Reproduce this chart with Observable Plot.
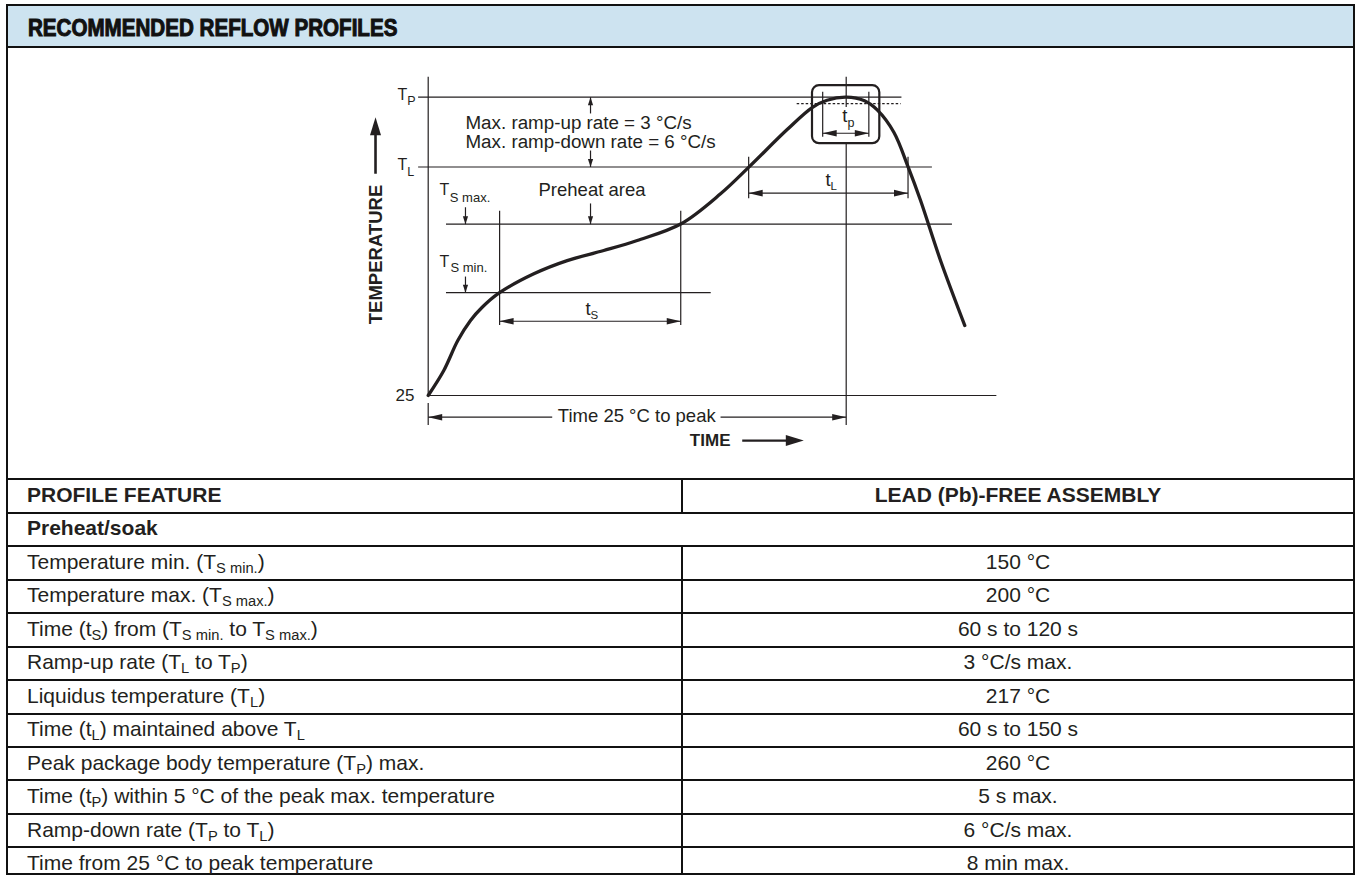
<!DOCTYPE html>
<html>
<head>
<meta charset="utf-8">
<script src="https://cdn.jsdelivr.net/npm/d3@7"></script>
<script src="https://cdn.jsdelivr.net/npm/@observablehq/plot@0.6"></script>
<style>
  html, body { margin: 0; padding: 0; background: #fff; }
  body { width: 1355px; height: 875px; position: relative; overflow: hidden;
         font-family: "Liberation Sans", Arial, Helvetica, sans-serif; color: #231f20; }
  .frame { position: absolute; left: 6px; top: 4px; width: 1349px; height: 871px;
           border: 2px solid #111; box-sizing: border-box; }
  .band { position: absolute; left: 8px; top: 6px; width: 1345px; height: 39.5px;
          background: #cde3f0; border-bottom: 2px solid #111; }
  .title { position: absolute; left: 28px; top: 16.5px; font-family: "Liberation Sans", Arial, sans-serif;
           font-weight: bold; font-size: 23px; line-height: 1; white-space: nowrap;
           color: #111; -webkit-text-stroke: 1px #111; transform: scaleX(0.895); transform-origin: 0 0; }
  .hline { position: absolute; left: 8px; width: 1345px; height: 2px; background: #111; }
  .vline { position: absolute; width: 2px; background: #111; }
  .cell { position: absolute; line-height: 1; white-space: nowrap; font-size: 21px; }
  .cell.b { font-weight: bold; }
  .cell.c { text-align: center; }
  sub { font-size: 0.7em; vertical-align: -0.28em; line-height: 0; }
  #chart { position: absolute; left: 0; top: 48px; width: 1355px; height: 430px; }
</style>
</head>
<body>
<div class="frame"></div>
<div class="band"></div>
<div class="title" id="title"></div>
<div id="chart"></div>
<div id="table"></div>
<script>
// ================= DATA =================
const titleText = "RECOMMENDED REFLOW PROFILES";

// Schematic temperature levels of the figure (°C on the drawing's scale)
const levelTP = 260, levelTL = 205, levelTSmax = 160, levelTSmin = 106, levelRoom = 25, levelTP5 = 255;
const timePeak = 480;

// Reflow profile curve: time (s, figure scale) / temperature
const curveTime = [0, 17.9, 34.0, 48.6, 62.0, 81.1, 121.3, 159.6, 201.6, 240.0, 290.5, 335.7, 368.2,
                   412.2, 441.3, 458.0, 480, 501.0, 515.6, 534.7, 551.2, 565.4, 588.3, 616.2];
const curveTemp = [25, 44.7, 68.3, 84.1, 94.5, 105.6, 120.9, 131.3, 139.2, 147.1, 160.3, 183.9, 204.9,
                   234.5, 252.0, 257.6, 260, 257.2, 250.0, 232.4, 204.9, 178.6, 131.4, 80.1];

// Horizontal level lines
const hRuleY  = [levelTP, levelTL, levelTSmax, levelTSmin, levelRoom];
const hRuleX1 = [-11, -11, 21, 21, 0];
const hRuleX2 = [544, 579, 602, 325, 653];

// Vertical lines (axis, peak, t_S, t_L, t_p marks, time origin tick)
const vRuleX  = [0, timePeak, timePeak, 82, 290, 368, 551, 453, 506, 0];
const vRuleY1 = [25, 251.9, 1.4, 80.1, 80.1, 180, 180, 228.5, 228.5, 1.4];
const vRuleY2 = [275.8, 275.8, 223.4, 170.2, 170.2, 212.7, 212.7, 263.9, 263.9, 18.7];

// Dimension arrows (horizontal): t_S, t_L, t_p, time 25 °C to peak (two halves)
const dimY    = [83.5, 184.4, 231.6, 7.9, 7.9];
const dimX1   = [82, 368, 453, 0, 335.7];
const dimX2   = [290, 551, 506, 142.4, timePeak];
const dimHead = ["both", "both", "both", "start", "end"];

// Small vertical pointer arrows (ramp-up, ramp-down, preheat, T_S max, T_S min)
const ptrX    = [186.4, 186.4, 186.4, 42.8, 42.8];
const ptrFrom = [247.2, 218.0, 176.3, 173.3, 118.7];
const ptrTo   = [levelTP, levelTL, levelTSmax, levelTSmax, levelTSmin];

// t_p window box
const boxX = [441.3, 518.6], boxY = [223.4, 269.1];

// Labels of the figure
const labels = [
  {text: "T", x: -24.1, y: 257.9, anchor: "end", size: 16},
  {text: "P", x: -24.1, y: 254.2, anchor: "start", size: 12.5},
  {text: "T", x: -24.1, y: 202.3, anchor: "end", size: 16},
  {text: "L", x: -24.1, y: 198.3, anchor: "start", size: 12.5},
  {text: "T", x: 13.0, y: 182.6, anchor: "start", size: 16},
  {text: "S max.", x: 24.8, y: 177.3, anchor: "start", size: 13},
  {text: "T", x: 13.0, y: 126.6, anchor: "start", size: 16},
  {text: "S min.", x: 25.6, y: 122.1, anchor: "start", size: 13},
  {text: "Preheat area", x: 188.1, y: 181.8, anchor: "middle", size: 18.5},
  {text: "Max. ramp-up rate = 3 °C/s", x: 42.8, y: 235.1, anchor: "start", size: 18.8},
  {text: "Max. ramp-down rate = 6 °C/s", x: 42.8, y: 220.1, anchor: "start", size: 18.8},
  {text: "t", x: 186.4, y: 88.8, anchor: "end", size: 18.5},
  {text: "S", x: 186.4, y: 85.4, anchor: "start", size: 11.5},
  {text: "t", x: 462.0, y: 190.4, anchor: "end", size: 18.5},
  {text: "L", x: 462.0, y: 187.0, anchor: "start", size: 11.5},
  {text: "t", x: 481.5, y: 240.3, anchor: "end", size: 18.5},
  {text: "p", x: 481.5, y: 236.9, anchor: "start", size: 12.5},
  {text: "25", x: -15.7, y: 20.5, anchor: "end", size: 17},
  {text: "Time 25 °C to peak", x: 239.5, y: 4.0, anchor: "middle", size: 18.5},
  {text: "TIME", x: 347.1, y: -14.4, anchor: "end", size: 17, weight: "bold"}
];
const axisTitleY = {text: "TEMPERATURE", x: -59.4, y: 136.1};
const bigArrowTemp = {x: -60.5, from: 199.7, shaftTo: 237.7, tip: 244.3};
const bigArrowTime = {y: -10.5, from: 360.6, shaftTo: 411.1, tip: 431.3};

// Table
const tableHead = ["PROFILE FEATURE", "LEAD (Pb)-FREE ASSEMBLY"];
const sectionLabel = "Preheat/soak";
const features = [
  "Temperature min. (T<sub>S min.</sub>)",
  "Temperature max. (T<sub>S max.</sub>)",
  "Time (t<sub>S</sub>) from (T<sub>S min.</sub> to T<sub>S max.</sub>)",
  "Ramp-up rate (T<sub>L</sub> to T<sub>P</sub>)",
  "Liquidus temperature (T<sub>L</sub>)",
  "Time (t<sub>L</sub>) maintained above T<sub>L</sub>",
  "Peak package body temperature (T<sub>P</sub>) max.",
  "Time (t<sub>P</sub>) within 5 °C of the peak max. temperature",
  "Ramp-down rate (T<sub>P</sub> to T<sub>L</sub>)",
  "Time from 25 °C to peak temperature"
];
const values = ["150 °C", "200 °C", "60 s to 120 s", "3 °C/s max.", "217 °C",
                "60 s to 150 s", "260 °C", "5 s max.", "6 °C/s max.", "8 min max."];

// ================= RENDER =================
const INK = "#231f20";
const FONT = "'Liberation Sans', Arial, Helvetica, sans-serif";
document.getElementById("title").textContent = titleText;

function head(dir, L, W) {
  const pts = {
    right: [[0, 0], [-L, -W], [-L, W]],
    left:  [[0, 0], [L, -W], [L, W]],
    up:    [[0, 0], [-W, L], [W, L]],
    down:  [[0, 0], [-W, -L], [W, -L]]
  }[dir];
  return {draw(ctx) {
    ctx.moveTo(pts[0][0], pts[0][1]);
    ctx.lineTo(pts[1][0], pts[1][1]);
    ctx.lineTo(pts[2][0], pts[2][1]);
    ctx.closePath();
  }};
}

const curve = curveTime.map((t, i) => ({t, T: curveTemp[i]}));
const hRules = hRuleY.map((y, i) => ({y, x1: hRuleX1[i], x2: hRuleX2[i]}));
const vRules = vRuleX.map((x, i) => ({x, y1: vRuleY1[i], y2: vRuleY2[i]}));
const dims = dimY.map((y, i) => ({y, x1: dimX1[i], x2: dimX2[i], h: dimHead[i]}));
const ptrs = ptrX.map((x, i) => ({x, y1: ptrFrom[i], y2: ptrTo[i]}));

// arrowheads
const heads = [];
dims.forEach(d => {
  if (d.h === "both" || d.h === "start") heads.push({x: d.x1, y: d.y, dir: "left", kind: "fine"});
  if (d.h === "both" || d.h === "end") heads.push({x: d.x2, y: d.y, dir: "right", kind: "fine"});
});
ptrs.forEach(p => heads.push({x: p.x, y: p.y2, dir: p.y2 > p.y1 ? "up" : "down", kind: "small"}));
heads.push({x: bigArrowTemp.x, y: bigArrowTemp.tip, dir: "up", kind: "big"});
heads.push({x: bigArrowTime.tip, y: bigArrowTime.y, dir: "right", kind: "big"});
const headSize = {fine: [14, 3.3], small: [8, 2.6], big: [18, 5.5]};
const headMarks = [];
for (const kind of ["fine", "small", "big"]) {
  for (const dir of ["left", "right", "up", "down"]) {
    const sub = heads.filter(h => h.kind === kind && h.dir === dir);
    if (sub.length) headMarks.push(Plot.dot(sub, {x: "x", y: "y", symbol: head(dir, ...headSize[kind]), fill: INK, stroke: "none"}));
  }
}

const top0 = 48;
const chart = Plot.plot({
  width: 1355, height: 430, margin: 0,
  x: {domain: [0, 480], range: [427.7, 845.7], axis: null},
  y: {domain: [25, 260], range: [395 - top0, 96.7 - top0], axis: null},
  style: {background: "transparent", overflow: "visible", fontFamily: FONT, color: INK},
  marks: [
    Plot.ruleY(hRules, {y: "y", x1: "x1", x2: "x2", stroke: INK, strokeWidth: 1.2}),
    Plot.ruleY([levelTP5], {y: d => d, x1: 423.7, x2: 543.2, stroke: INK, strokeWidth: 1.2, strokeDasharray: "2.5,2"}),
    Plot.ruleX(vRules, {x: "x", y1: "y1", y2: "y2", stroke: INK, strokeWidth: 1.2}),
    Plot.rect([0], {x1: boxX[0], x2: boxX[1], y1: boxY[0], y2: boxY[1], rx: 7, fill: "none", stroke: INK, strokeWidth: 2.2}),
    Plot.line(curve, {x: "t", y: "T", curve: "catmull-rom", stroke: INK, strokeWidth: 3.3, strokeLinecap: "round"}),
    Plot.link(dims, {x1: "x1", x2: "x2", y1: "y", y2: "y", stroke: INK, strokeWidth: 1.2}),
    Plot.link(ptrs, {x1: "x", x2: "x", y1: "y1", y2: "y2", stroke: INK, strokeWidth: 1.2}),
    Plot.link([bigArrowTemp], {x1: "x", x2: "x", y1: "from", y2: "shaftTo", stroke: INK, strokeWidth: 2.6}),
    Plot.link([bigArrowTime], {x1: "from", x2: "shaftTo", y1: "y", y2: "y", stroke: INK, strokeWidth: 2.2}),
    ...headMarks,
    ...labels.map(l => Plot.text([l], {x: "x", y: "y", text: "text", textAnchor: l.anchor, lineAnchor: "bottom",
      fontSize: l.size, fontWeight: l.weight || "normal", fontFamily: FONT, fill: INK})),
    Plot.text([axisTitleY], {x: "x", y: "y", text: "text", rotate: -90, textAnchor: "middle", lineAnchor: "middle",
      fontSize: 18.5, fontWeight: "bold", fontFamily: FONT, fill: INK})
  ]
});
document.getElementById("chart").appendChild(chart);

// table
const ROW0 = 478.3, ROWH = 33.46, FS = 21, BASE = 23.5, COLX = 681;
const tbl = document.getElementById("table");
function add(cls, style, html) {
  const d = document.createElement("div");
  d.className = cls;
  Object.assign(d.style, style);
  if (html != null) d.innerHTML = html;
  tbl.appendChild(d);
}
const rows = [[tableHead[0], tableHead[1], true], [sectionLabel, null, true]]
  .concat(features.map((f, i) => [f, values[i], false]));
rows.forEach((r, k) => {
  const top = ROW0 + k * ROWH;
  add("hline", {top: top + "px"});
  if (r[1] !== null) add("vline", {left: COLX + "px", top: top + "px", height: (k === rows.length - 1 ? 875 - top : ROWH) + "px"});
  const ty = (top + BASE - 0.846 * FS) + "px";
  add("cell" + (r[2] ? " b" : ""), {left: "27px", top: ty}, r[0]);
  if (r[1] !== null) add("cell c" + (r[2] ? " b" : ""), {left: (COLX + 2) + "px", width: (1353 - COLX - 2) + "px", top: ty}, r[1]);
});
</script>
</body>
</html>
